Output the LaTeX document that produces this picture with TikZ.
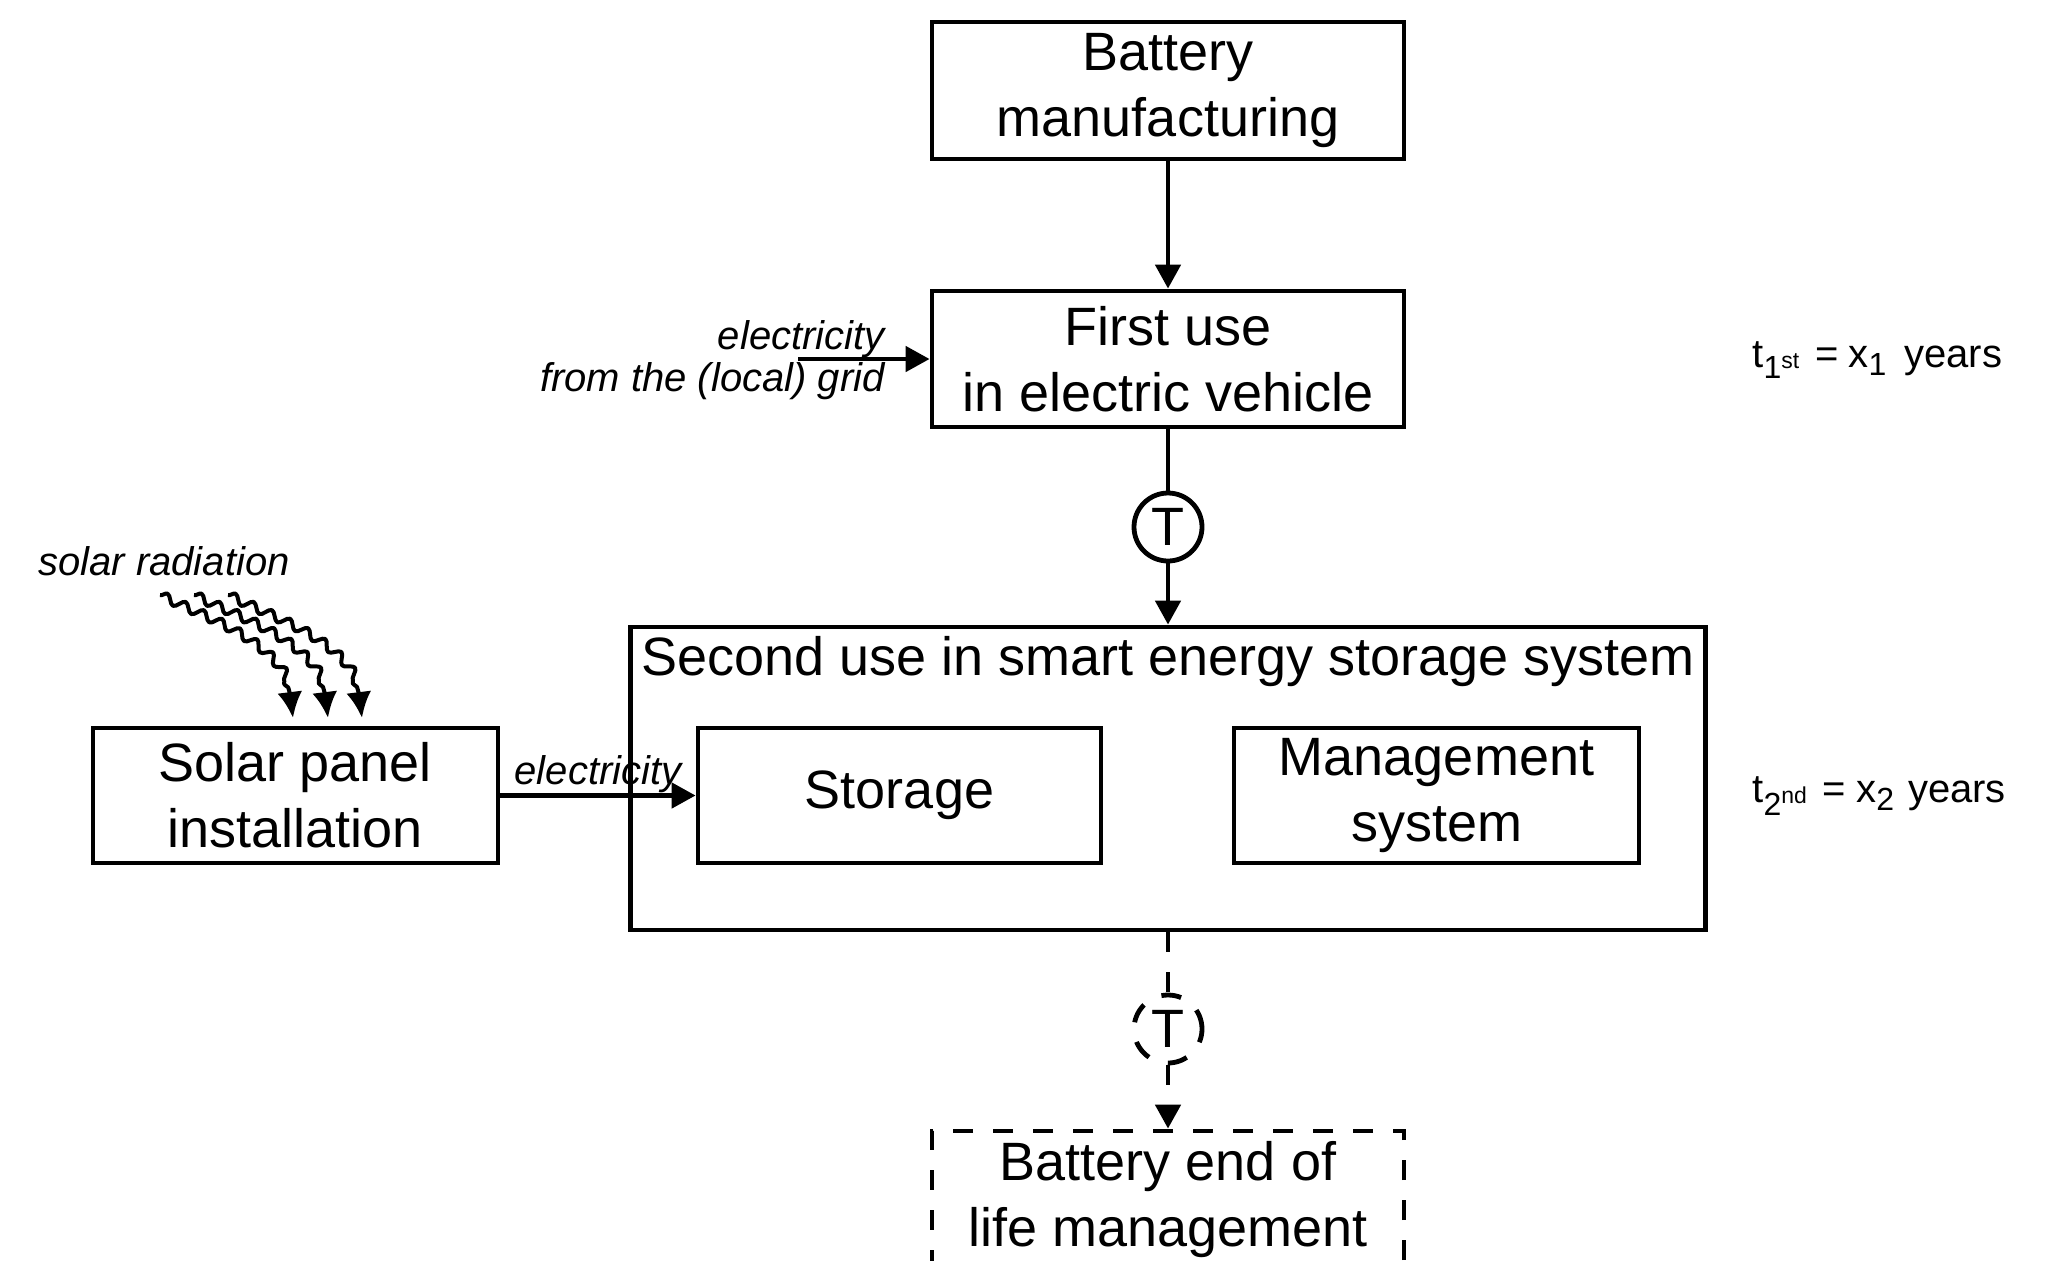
\documentclass[tikz,border=0pt]{standalone}
\usepackage{fontspec}
\setmainfont{Liberation Sans}
\usetikzlibrary{arrows.meta,decorations.pathmorphing}

\newcommand\diagboxfont{\fontsize{27}{33}\selectfont}
\newcommand\diaglabelfont{\fontsize{20}{23}\selectfont}
\newcommand\diaglow[2]{\raisebox{#1}{\fontsize{16}{16}\selectfont #2}}
\newcommand\diagsmall[2]{\raisebox{#1}{\fontsize{11.5}{12}\selectfont #2}}

\begin{document}
\begin{tikzpicture}[x=0.5pt,y=-0.5pt,
  box/.style={draw, line width=2.4pt, inner sep=0pt, align=center, font=\diagboxfont},
  tcirc/.style={draw, circle, line width=2.4pt, inner sep=0pt, minimum size=34pt, font=\diagboxfont},
  lbl/.style={font=\diaglabelfont, inner sep=0pt},
  solid line/.style={line width=2.4pt},
  flow/.style={line width=2.4pt, -{Triangle[length=12pt,width=12.5pt]}},
  dashedline/.style={dash pattern=on 10pt off 10pt},
  wave/.style={line width=2pt, line join=round, decorate,
    decoration={snake, amplitude=2.2pt, segment length=10pt, post length=12pt},
    -{Latex[length=13pt,width=12.5pt]}}]

\useasboundingbox (0,0) rectangle (2056,1260);
\fill[white] (0,0) rectangle (2056,1260);
\clip (0,0) rectangle (2056,1260);

% life-cycle stages
\node[box, minimum width=236pt, minimum height=68.5pt] (manu) at (1168,90.5) {Battery\\manufacturing};
\node[box, minimum width=236pt, minimum height=68pt] (first) at (1168,359) {First use\\in electric vehicle};
\node[tcirc] (t1) at (1168,527) {T};
\node[draw, line width=2.4pt, inner sep=0pt, minimum width=537.5pt, minimum height=151.5pt] (second) at (1168,778.5) {};
\node[font=\diagboxfont, anchor=base, inner sep=0pt] (secondtitle) at (1168,675) {Second use in smart energy storage system};
\node[box, minimum width=201.5pt, minimum height=67.5pt] (storage) at (899.5,795.5) {Storage};
\node[box, minimum width=202.5pt, minimum height=67.5pt] (mgmt) at (1436.5,795.5) {Management\\system};
\node[box, minimum width=202.5pt, minimum height=67.5pt] (solar) at (295.5,795.5) {Solar panel\\installation};
\node[tcirc, dashedline] (t2) at (1168,1029) {T};
\node[box, dashedline, minimum width=236pt, minimum height=68.5pt] (eol) at (1168,1199.5) {Battery end of\\life management};

% main flow
\draw[flow] (manu) -- (first);
\draw[solid line] (first) -- (t1);
\draw[flow] (t1) -- (second);
\draw[solid line, dashedline] (second) -- (t2);
\draw[flow, dashedline] (t2) -- (eol);

% grid electricity into the vehicle
\coordinate (gridsrc) at (798,359);
\draw[flow] (gridsrc) -- (first.west);
\node[lbl, anchor=base east] (gridlbla) at (885,349) {\itshape electricity};
\node[lbl, anchor=base east] (gridlblb) at (885,391) {\itshape from the (local) grid};

% solar electricity into storage
\draw[flow] (solar.east) -- (storage.west);
\node[lbl, anchor=base] (solarlbl) at (598,784) {\itshape electricity};

% solar radiation
\node[lbl, anchor=base west] (radlbl) at (38,575) {\itshape solar radiation};
\coordinate (w1s) at (160,595);
\coordinate (w1e) at (293,718);
\coordinate (w2s) at (194,595);
\coordinate (w2e) at (328,718);
\coordinate (w3s) at (228,595);
\coordinate (w3e) at (362,718);
\draw[wave] (w1s) to[out=-25, in=90] (w1e);
\draw[wave] (w2s) to[out=-25, in=90] (w2e);
\draw[wave] (w3s) to[out=-25, in=90] (w3e);

% durations
\node[lbl, anchor=base west] (dur1) at (1752,367)
  {t\diaglow{-5.5pt}{1}\diagsmall{-0.5pt}{st}\hspace{8pt}=\hspace{5pt}x\diaglow{-4pt}{1}\hspace{9pt}years};
\node[lbl, anchor=base west] (dur2) at (1752,802)
  {t\diaglow{-6.5pt}{2}\diagsmall{-0.5pt}{nd}\hspace{8pt}=\hspace{5pt}x\diaglow{-4pt}{2}\hspace{7pt}years};
\end{tikzpicture}
\end{document}
